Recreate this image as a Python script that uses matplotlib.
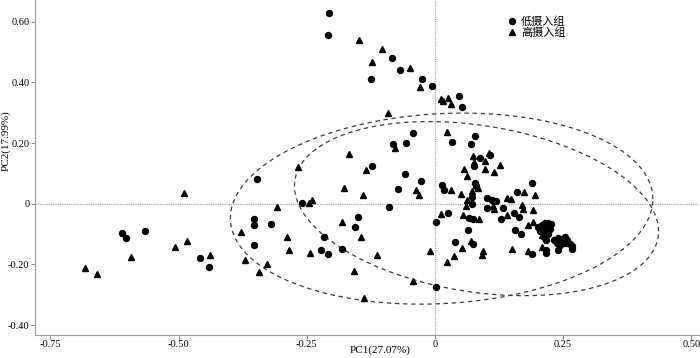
import numpy as np
import matplotlib
matplotlib.use("Agg")
import matplotlib.pyplot as plt
from matplotlib.lines import Line2D

plt.rcParams["font.family"] = ["Liberation Serif", "Noto Sans CJK SC"]

# 低摄入组 (circles)
low_x = [-0.207, -0.209, -0.083, -0.068, -0.124, -0.025, -0.006, 0.047, 0.053, -0.043,
         -0.081, -0.057, 0.034, 0.078, 0.070, -0.123, -0.348, -0.058, -0.028, -0.072,
         -0.260, -0.090, -0.150, -0.155, -0.216, -0.182, -0.222, -0.209, 0.003, 0.002,
         -0.352, -0.352, -0.320, -0.352, -0.441, -0.458, -0.610, -0.603, -0.566,
         0.088, 0.107, 0.076, 0.078, 0.081, 0.014, 0.018, 0.072, 0.189, 0.160,
         0.101, 0.111, 0.119, 0.073, 0.101, 0.133, 0.155, 0.025, 0.066, 0.075,
         0.128, 0.156, 0.168, 0.064, 0.039, 0.075, 0.190, 0.164,
         0.201, 0.208, 0.214, 0.220, 0.227, 0.204, 0.211, 0.217, 0.224, 0.214,
         0.220, 0.213, 0.217, 0.233, 0.240, 0.246, 0.253, 0.258, 0.239, 0.244,
         0.250, 0.256, 0.263, 0.267, 0.267, 0.240, 0.217, 0.216]
low_y = [0.629, 0.558, 0.480, 0.440, 0.410, 0.413, 0.388, 0.354, 0.319, 0.234,
         0.197, 0.200, 0.204, 0.224, 0.197, 0.124, 0.082, 0.099, 0.074, 0.048,
         0.003, -0.012, -0.042, -0.078, -0.109, -0.148, -0.151, -0.164, -0.276, -0.059,
         -0.049, -0.070, -0.067, -0.137, -0.208, -0.178, -0.095, -0.112, -0.091,
         0.151, 0.161, 0.126, 0.068, 0.059, 0.061, 0.047, 0.021, 0.069, 0.039,
         0.019, 0.013, 0.009, -0.002, -0.014, -0.014, -0.030, -0.030, -0.046, -0.051,
         -0.051, -0.088, -0.099, -0.086, -0.125, -0.131, -0.165, -0.042,
         -0.075, -0.070, -0.065, -0.062, -0.067, -0.089, -0.086, -0.081, -0.084, -0.097,
         -0.099, -0.110, -0.121, -0.119, -0.114, -0.117, -0.110, -0.119, -0.130, -0.135,
         -0.128, -0.130, -0.132, -0.139, -0.150, -0.152, -0.154, -0.161]

# 高摄入组 (triangles)
high_x = [-0.148, -0.103, -0.123, -0.049, -0.029, 0.011, 0.016, 0.025, 0.032, -0.091,
          -0.077, 0.024, -0.167, -0.135, -0.267, -0.178, -0.036, -0.032, -0.140, -0.245,
          -0.240, -0.309, -0.181, -0.145, -0.243, -0.113, -0.158, -0.042, -0.139, -0.010,
          -0.378, -0.288, -0.285, -0.371, -0.327, -0.343, -0.438, -0.490, -0.592, -0.682,
          -0.660, -0.506, -0.484,
          0.075, 0.106, 0.097, 0.076, 0.127, 0.097, 0.056, 0.115, 0.062, 0.084,
          0.073, 0.031, 0.051, 0.062, 0.196, 0.173, 0.141, 0.149, 0.060, 0.113,
          0.116, 0.169, 0.171, 0.192, 0.011, 0.086, 0.141, 0.182, 0.191, 0.052,
          0.070, 0.093, 0.092, 0.037, 0.023, 0.150, 0.182, 0.208, 0.208, 0.054]
high_y = [0.541, 0.511, 0.469, 0.447, 0.384, 0.344, 0.338, 0.350, 0.329, 0.298,
          0.183, 0.237, 0.164, 0.112, 0.121, 0.053, 0.046, 0.029, 0.029, 0.004,
          0.011, -0.009, -0.059, -0.111, -0.163, -0.168, -0.223, -0.256, -0.311, -0.156,
          -0.093, -0.109, -0.153, -0.185, -0.198, -0.225, -0.170, 0.037, -0.176, -0.212,
          -0.230, -0.141, -0.122,
          0.156, 0.166, 0.140, 0.137, 0.127, 0.116, 0.116, 0.104, 0.093, 0.051,
          0.042, 0.047, 0.032, 0.012, 0.030, 0.038, 0.019, 0.016, -0.008, -0.008,
          -0.016, -0.003, -0.017, -0.019, -0.033, -0.050, -0.037, -0.071, -0.060, -0.145,
          -0.124, -0.156, -0.170, -0.173, -0.193, -0.149, -0.156, -0.103, -0.142, -0.037]

# confidence ellipses: centre, sd along x, sd along y, correlation
ellipses = [
    ((0.013, -0.016), 0.412, 0.315, 0.10),
    ((0.081, -0.016), 0.355, 0.287, -0.26),
]

x_ticks = [-0.75, -0.50, -0.25, 0, 0.25, 0.50]
x_labels = ["-0.75", "-0.50", "-0.25", "0", "0.25", "0.50"]
y_ticks = [-0.40, -0.20, 0, 0.20, 0.40, 0.60]
y_labels = ["-0.40", "-0.20", "0", "0.20", "0.40", "0.60"]

fig = plt.figure(figsize=(7, 3.58), dpi=100)
ax = fig.add_axes([0.05, 0.064, 0.9486, 0.936])

ax.axhline(0, color="#a0a0a0", lw=0.8, ls=(0, (1, 1)), zorder=1)
ax.axvline(0, color="#a0a0a0", lw=0.8, ls=(0, (1, 1)), zorder=1)

t = np.linspace(0, 2 * np.pi, 400)
for (cx, cy), sx, sy, rho in ellipses:
    cov = np.array([[sx * sx, rho * sx * sy], [rho * sx * sy, sy * sy]])
    L = np.linalg.cholesky(cov)
    pts = L @ np.vstack([np.cos(t), np.sin(t)])
    ax.plot(cx + pts[0], cy + pts[1], color="#3a3a3a", lw=0.9,
            ls=(0, (3.5, 3)), zorder=2)

ax.plot(low_x, low_y, "o", color="black", ms=4.3, ls="none", zorder=3)
ax.plot(high_x, high_y, "^", color="black", ms=4.8, ls="none", zorder=3)

ax.set_xlim(-0.78, 0.515)
ax.set_ylim(-0.433, 0.672)
ax.set_xticks(x_ticks)
ax.set_xticklabels(x_labels)
ax.set_yticks(y_ticks)
ax.set_yticklabels(y_labels)
ax.tick_params(labelsize=7.5, length=3, width=0.7, color="#888888", pad=1)
ax.tick_params(axis="x", pad=0.5)

for side in ["top", "right"]:
    ax.spines[side].set_visible(False)
for side in ["left", "bottom"]:
    ax.spines[side].set_color("#999999")
    ax.spines[side].set_linewidth(0.8)

ax.set_xlabel("PC1(27.07%)", fontsize=8)
ax.set_ylabel("PC2(17.99%)", fontsize=8)
ax.xaxis.set_label_coords(0.52, -0.03)
ax.yaxis.set_label_coords(-0.037, 0.58)

handles = [
    Line2D([], [], marker="o", color="black", ls="none", ms=4.3),
    Line2D([], [], marker="^", color="black", ms=4.8, ls="none"),
]
ax.legend(handles, ["低摄入组", "高摄入组"], loc="upper left",
          bbox_to_anchor=(0.70, 0.975), frameon=False, fontsize=8,
          handlelength=0.8, handletextpad=0.4, labelspacing=0.05,
          borderpad=0.2)

fig.savefig("out.png", dpi=100)
